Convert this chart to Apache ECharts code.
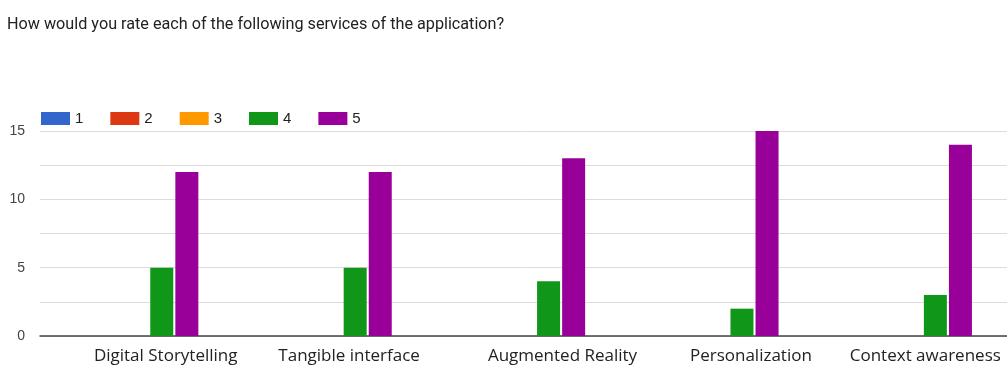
<!DOCTYPE html>
<html><head><meta charset="utf-8">
<script src="https://cdn.jsdelivr.net/npm/echarts@6/dist/echarts.min.js"></script>
<style>html,body{margin:0;padding:0;background:#fff}#c{width:1007px;height:365px}</style>
</head><body><div id="c"></div>
<script>
const titleText = 'How would you rate each of the following services of the application?';
const categories = ['Digital Storytelling', 'Tangible interface', 'Augmented Reality', 'Personalization', 'Context awareness'];
const seriesNames = ['1', '2', '3', '4', '5'];
const s1 = [0, 0, 0, 0, 0];
const s2 = [0, 0, 0, 0, 0];
const s3 = [0, 0, 0, 0, 0];
const s4 = [5, 5, 4, 2, 3];
const s5 = [12, 12, 13, 15, 14];
const yTicks = [0, 5, 10, 15];
const colors = ['#3366cc', '#dc3912', '#ff9900', '#109618', '#990099'];

const data = [s1, s2, s3, s4, s5];
// label horizontal shifts (px) to mimic the reference's label placement
const labelShift = [29, 19, 39, 34, 15];
const labelFont = { fontFamily: 'Open Sans', fontSize: 17, color: '#222' };
const rich = {};
labelShift.forEach((s, i) => { rich['l' + i] = Object.assign({ padding: [0, 0, 0, 2 * s] }, labelFont); });

const chart = echarts.init(document.getElementById('c'));
chart.setOption({
  animation: false,
  title: { text: titleText, left: 2, top: 12, textStyle: { fontFamily: 'Roboto', fontSize: 16.2, fontWeight: 'normal', color: '#222' } },
  legend: {
    left: 36, top: 106, itemWidth: 29, itemHeight: 13, itemGap: 27,
    icon: 'rect',
    textStyle: { fontFamily: 'Liberation Sans', fontSize: 15, color: '#222' },
    data: seriesNames
  },
  grid: { left: 40, top: 131, bottom: 28, width: 976, containLabel: false },
  xAxis: {
    type: 'category', data: categories,
    axisLine: { lineStyle: { color: '#444', width: 1.5 } },
    axisTick: { show: false },
    axisLabel: { interval: 0, margin: 12, fontFamily: 'Open Sans', fontSize: 17, color: '#222', rich: rich,
      formatter: (v) => '{l' + categories.indexOf(v) + '|' + v + '}' }
  },
  yAxis: {
    type: 'value', min: 0, max: 15, interval: 2.5,
    axisLine: { show: false }, axisTick: { show: false },
    splitLine: { lineStyle: { color: '#dcdcdc', width: 1 } },
    axisLabel: { margin: 15, fontFamily: 'Liberation Sans', fontSize: 14, color: '#444',
      formatter: v => yTicks.includes(v) ? String(v) : '' }
  },
  series: seriesNames.map((n, i) => ({
    name: n, type: 'bar', data: data[i], barWidth: 23, barGap: '9%',
    itemStyle: { color: colors[i] }
  }))
});
</script></body></html>
